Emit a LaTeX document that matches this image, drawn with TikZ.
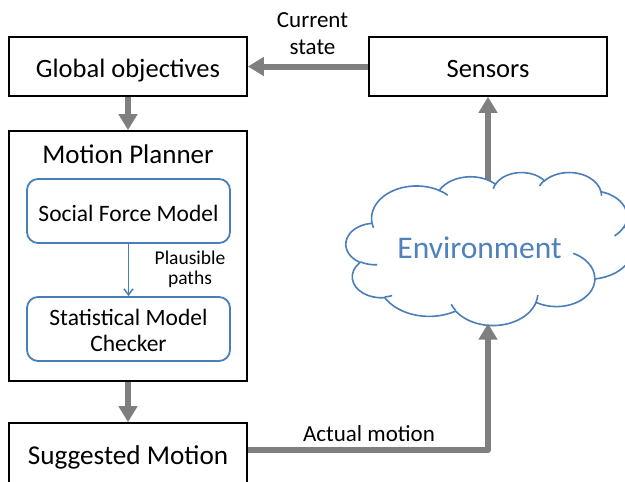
\documentclass[tikz,border=0pt]{standalone}
\usepackage{fontspec}
\setmainfont{Carlito}
\usetikzlibrary{arrows.meta}
\definecolor{arrgray}{HTML}{7F7F7F}
\definecolor{cblue}{HTML}{4A7EBB}
\definecolor{tblue}{HTML}{4F81BD}
% arc of the cloud outline: x radius, y radius, start angle, sweep (visual angles)
\newcommand\cldarc[4]{%
  \pgfmathsetmacro\cldA{#3}%
  \pgfmathsetmacro\cldB{#3+#4}%
  \pgfmathsetmacro\cldS{\cldA+mod(atan2(#1*sin(\cldA),#2*cos(\cldA))-(\cldA)+900,360)-180}%
  \pgfmathsetmacro\cldE{\cldB+mod(atan2(#1*sin(\cldB),#2*cos(\cldB))-(\cldB)+900,360)-180}%
  \pgfpatharcaxes{\cldS}{\cldE}{\pgfpointxy{#1}{0}}{\pgfpointxy{0}{#2}}}
\begin{document}
\begin{tikzpicture}[x=1pt,y=-1pt,
  box/.style={draw=black, line width=1.6pt, minimum width=238pt, inner sep=0pt,
    font=\fontsize{26.5}{30}\selectfont, text height=21pt, text depth=0pt},
  rbox/.style={draw=cblue, line width=1.8pt, rounded corners=11pt, minimum width=203pt,
    inner sep=0pt, font=\fontsize{23.5}{26}\selectfont},
  garrow/.style={draw=arrgray, line width=6pt, line join=round,
    -{Triangle[width=18pt,length=16pt]}},
  barrow/.style={draw=cblue, line width=1.5pt, -{Straight Barb[width=9pt,length=6pt]}},
  lbl/.style={font=\fontsize{23}{27}\selectfont, align=center, inner sep=0pt},
]
\useasboundingbox (0,0) rectangle (625,482);

% boxes
\node[box, minimum height=59pt, font=\fontsize{26.5}{30}\selectfont] (glob) at (128,66.5) {Global objectives};
\node[box, minimum height=59pt] (sens) at (488,66.5) {Sensors};
\node[box, minimum height=250pt] (mp) at (128,256) {};
\node[anchor=base, inner sep=0pt, font=\fontsize{27}{30}\selectfont] (mptitle) at (128,163) {Motion Planner};
\node[rbox, minimum height=64pt, text height=20pt, text depth=0pt] (sfm) at (128.5,211) {Social Force Model};
\node[rbox, minimum height=64pt, align=center, text height=44pt, text depth=0pt] (smc) at (128.5,329) {Statistical Model\\Checker};
\node[box, minimum height=64pt, text height=18pt, font=\fontsize{27.2}{30}\selectfont] (sug) at (128,455) {Suggested Motion};

% labels
\node[lbl, anchor=base] (cs) at (312.5,54) {Current\\state};
\node[lbl, anchor=base, font=\fontsize{19.5}{20}\selectfont] (pp) at (190,284) {Plausible\\paths};
\node[lbl, anchor=base] (am) at (369,441) {Actual motion};

% connector from the cloud up to the sensors (drawn under the cloud)
\coordinate (cloudtop) at (488,200);
\coordinate (cloudbot) at (488,323.5);
\draw[garrow] (cloudtop) -- (sens.south);

% cloud (Environment)
\begin{scope}[xshift=346pt, yshift=-172pt, x=6.655pt, y=-3.5417pt]
  \pgfsetlinewidth{1.6pt}
  \pgfsetstrokecolor{cblue}
  \pgfsetfillcolor{white}
  \pgfpathmoveto{\pgfpointxy{3.9}{14.37}}
  \cldarc{6.753}{9.190}{-190.4875}{123.7805}
  \cldarc{5.333}{7.267}{-144.1024}{89.9452}
  \cldarc{4.365}{5.945}{-145.8079}{99.7230}
  \cldarc{4.857}{6.595}{-130.9861}{117.2417}
  \cldarc{5.333}{7.273}{-78.7089}{109.0269}
  \cldarc{6.775}{9.220}{-46.2673}{130.2690}
  \cldarc{5.785}{7.867}{0.6250}{114.0333}
  \cldarc{6.752}{9.215}{22.4516}{115.1726}
  \cldarc{7.720}{10.543}{66.2426}{75.7110}
  \cldarc{4.360}{5.918}{-274.9421}{146.7356}
  \cldarc{4.345}{5.945}{-246.8285}{152.5189}
  \pgfpathclose
  \pgfusepath{fill,stroke}
  \pgfpathmoveto{\pgfpointxy{4.693}{26.177}}\cldarc{4.345}{5.945}{86.7420}{26.4295}
  \pgfpathmoveto{\pgfpointxy{6.928}{34.899}}\cldarc{4.360}{5.918}{73.6105}{11.4475}
  \pgfpathmoveto{\pgfpointxy{16.478}{39.090}}\cldarc{6.752}{9.215}{137.6242}{14.0811}
  \pgfpathmoveto{\pgfpointxy{28.827}{34.751}}\cldarc{6.752}{9.215}{6.4533}{15.9984}
  \pgfpathmoveto{\pgfpointxy{34.129}{22.954}}\cldarc{5.785}{7.867}{-70.2924}{70.9174}
  \pgfpathmoveto{\pgfpointxy{41.798}{15.354}}\cldarc{5.333}{7.273}{30.3180}{27.7515}
  \pgfpathmoveto{\pgfpointxy{38.324}{5.426}}\cldarc{4.857}{6.595}{-13.7443}{14.8589}
  \pgfpathmoveto{\pgfpointxy{29.078}{3.952}}\cldarc{4.857}{6.595}{-149.1815}{18.1954}
  \pgfpathmoveto{\pgfpointxy{22.141}{4.720}}\cldarc{4.365}{5.945}{-163.4943}{17.6864}
  \pgfpathmoveto{\pgfpointxy{14.000}{5.192}}\cldarc{6.753}{9.190}{-66.7070}{12.3194}
  \pgfpathmoveto{\pgfpointxy{4.127}{15.789}}\cldarc{6.753}{9.190}{157.6544}{11.8582}
  \pgfusepath{stroke}
\end{scope}
\node[anchor=base, text=tblue, font=\fontsize{31.5}{36}\selectfont, inner sep=0pt] (env) at (479.5,258) {Environment};

% connectors
\draw[garrow] (sens.west) -- (glob.east);
\draw[garrow] (glob.south) -- (mp.north);
\draw[garrow] (mp.south) -- (sug.north);
\draw[barrow] (sfm.south) -- (smc.north);
\draw[garrow] ([yshift=5pt]sug.east) -| (cloudbot);
\end{tikzpicture}
\end{document}
